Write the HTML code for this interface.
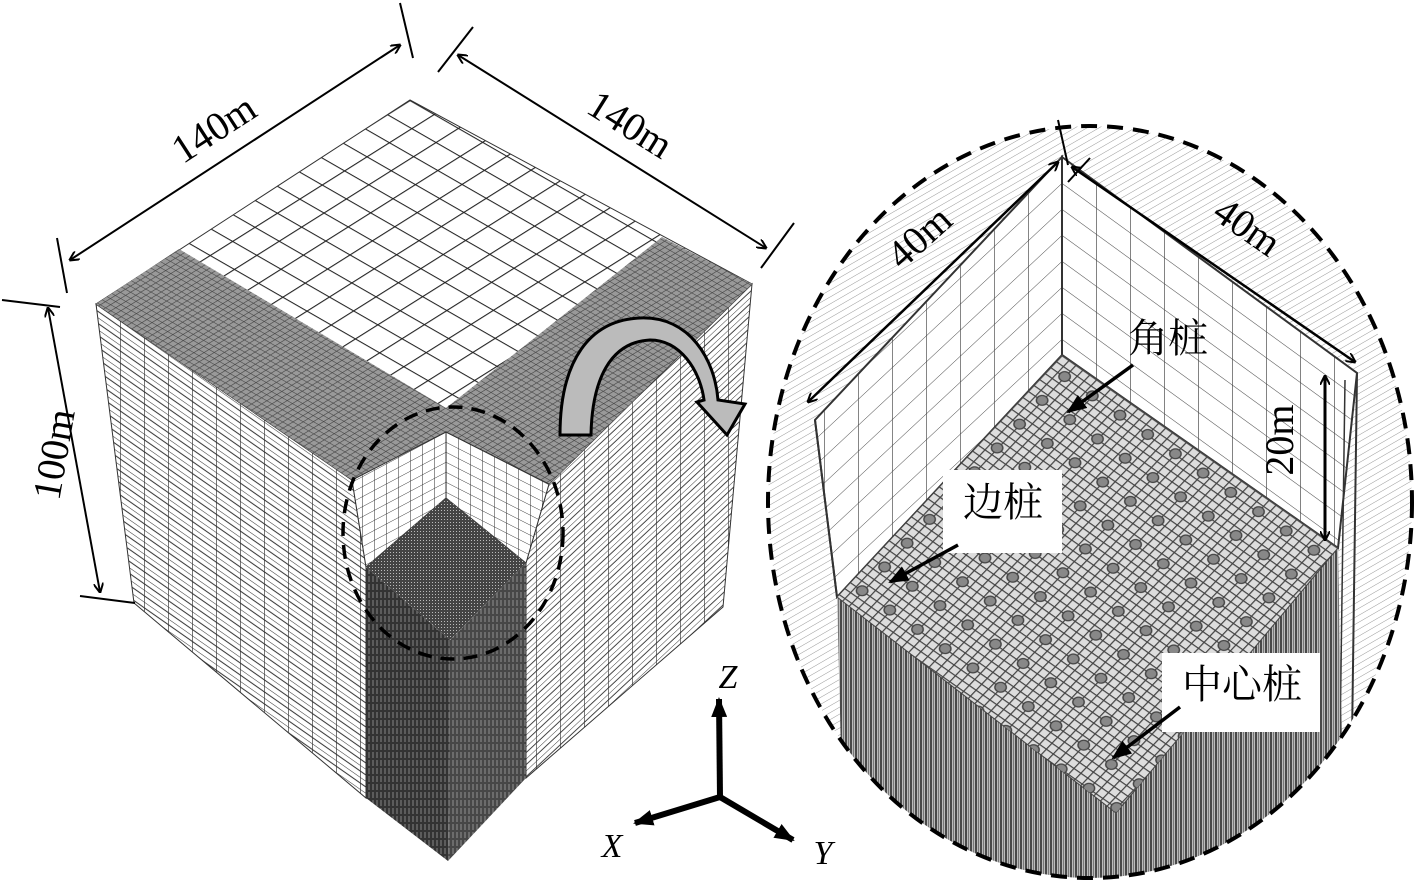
<!DOCTYPE html>
<html><head><meta charset="utf-8"><style>
html,body{margin:0;padding:0;background:#fff}
svg{display:block}
.t{font-family:"Liberation Serif","Noto Serif CJK SC",serif;fill:#000}
.c{font-family:"Liberation Serif","Noto Serif CJK SC","Noto Sans CJK SC",serif;fill:#000}
</style></head><body>
<svg width="1417" height="880" viewBox="0 0 1417 880" xmlns="http://www.w3.org/2000/svg">
<defs>
<marker id="ah" markerWidth="10" markerHeight="10" refX="9" refY="5" orient="auto-start-reverse" markerUnits="userSpaceOnUse">
<path d="M0,0 L10,5 L0,10" fill="none" stroke="#000" stroke-width="2"/></marker>
<marker id="af" markerWidth="20" markerHeight="16" refX="18" refY="8" orient="auto" markerUnits="userSpaceOnUse">
<path d="M0,0 L20,8 L0,16 Z" fill="#000"/></marker>
<pattern id="topg" width="1" height="1" patternUnits="userSpaceOnUse" patternTransform="matrix(-22.4,14.1,24.2,13.9,410,100)">
<rect width="1" height="1" fill="#fff"/><path d="M0,0H1M0,0V1" stroke="#222" stroke-width="0.09"/></pattern>
<pattern id="dark" width="1" height="1" patternUnits="userSpaceOnUse" patternTransform="matrix(-5,3.1,5.2,3,410,100)">
<rect width="1" height="1" fill="#999"/><path d="M0,0H1M0,0V1" stroke="#444" stroke-width="0.22"/></pattern>
<pattern id="lf" width="24" height="12" patternUnits="userSpaceOnUse" patternTransform="translate(96,304) skewY(35)">
<rect width="24" height="12" fill="#fff"/><path d="M0,0H24M0,0V12M0,6H24" stroke="#333" stroke-width="1.3"/></pattern>
<pattern id="rf" width="24" height="12" patternUnits="userSpaceOnUse" patternTransform="translate(752,284) skewY(-43)">
<rect width="24" height="12" fill="#fff"/><path d="M0,0H24M0,0V12M0,6H24" stroke="#333" stroke-width="1.3"/></pattern>
<pattern id="inw" width="12" height="10" patternUnits="userSpaceOnUse" patternTransform="translate(446,432) skewY(-28)">
<rect width="12" height="10" fill="#fff"/><path d="M0,0H12M0,0V10" stroke="#333" stroke-width="1"/></pattern>
<pattern id="inw2" width="12" height="10" patternUnits="userSpaceOnUse" patternTransform="translate(446,432) skewY(27)">
<rect width="12" height="10" fill="#fff"/><path d="M0,0H12M0,0V10" stroke="#333" stroke-width="1"/></pattern>
<pattern id="pil" width="4" height="8" patternUnits="userSpaceOnUse">
<rect width="4" height="8" fill="#333"/><path d="M1,0V6" stroke="#999" stroke-width="0.8"/></pattern>
<pattern id="piltop" width="3" height="3" patternUnits="userSpaceOnUse">
<rect width="3" height="3" fill="#444"/><rect width="1" height="1" fill="#bbb"/></pattern>
<pattern id="hatch" width="6" height="6" patternUnits="userSpaceOnUse" patternTransform="rotate(60)">
<rect width="6" height="6" fill="#fff"/><path d="M0,0V6" stroke="#999" stroke-width="1"/></pattern>
<pattern id="wallL" width="34" height="26" patternUnits="userSpaceOnUse" patternTransform="translate(1062,157) skewY(-43)">
<rect width="34" height="26" fill="#fff"/><path d="M0,0H34M0,0V26" stroke="#444" stroke-width="1.3"/></pattern>
<pattern id="wallR" width="34" height="26" patternUnits="userSpaceOnUse" patternTransform="translate(1062,157) skewY(36)">
<rect width="34" height="26" fill="#fff"/><path d="M0,0H34M0,0V26" stroke="#444" stroke-width="1.3"/></pattern>
<pattern id="floor" width="1" height="1" patternUnits="userSpaceOnUse" patternTransform="matrix(-5.6,5.95,6.9,4.82,1062,355)">
<rect width="1" height="1" fill="#ddd"/><path d="M0,0H1M0,0V1" stroke="#444" stroke-width="0.3"/></pattern>
<pattern id="piles" width="1" height="1" patternUnits="userSpaceOnUse" patternTransform="matrix(-22.5,23.8,27.7,19.3,1062,355)">
<circle cx="0.5" cy="0.5" r="0.16" fill="#888" stroke="#444" stroke-width="0.04"/></pattern>
<pattern id="side" width="5" height="10" patternUnits="userSpaceOnUse">
<rect width="5" height="10" fill="#bbb"/><path d="M1,0V10" stroke="#222" stroke-width="1.5"/><path d="M3.5,0V10" stroke="#666" stroke-width="0.8"/></pattern>
<clipPath id="circ"><ellipse cx="1090" cy="502" rx="322" ry="376"/></clipPath>
</defs>

<polygon points="96,304 352,480 366,567 366,798 134,603" fill="url(#lf)" stroke="#333"/>
<polygon points="752,284 549,484 526,563 526,778 723,607" fill="url(#rf)" stroke="#333"/>
<polygon points="410,100 752,284 549,484 446,432 352,480 96,304" fill="url(#topg)" stroke="#333"/>
<polygon points="96,304 179,249 446,408 446,432 352,480" fill="url(#dark)"/>
<polygon points="752,284 662,237 446,408 446,432 549,484" fill="url(#dark)"/>
<polygon points="352,480 446,432 446,498 366,567" fill="url(#inw)" stroke="#333"/>
<polygon points="446,432 549,484 526,563 446,498" fill="url(#inw2)" stroke="#333"/>
<polygon points="366,567 450,640 448,861 366,798" fill="url(#pil)"/>
<polygon points="450,640 526,563 526,778 448,861" fill="url(#pil)" opacity="0.9"/>
<polygon points="446,498 526,563 450,640 366,567" fill="url(#piltop)"/>
<ellipse cx="453" cy="533" rx="110" ry="126" fill="none" stroke="#000" stroke-width="3.5" stroke-dasharray="14,9"/>

<path d="M560,435 C560,360 590,320 640,318 C690,316 715,360 718,400 L745,404 L727,435 L697,402 L704,400 C700,370 680,340 650,340 C610,342 592,380 591,435 Z" fill="#bbb" stroke="#000" stroke-width="3"/>

<line x1="70" y1="260" x2="400" y2="45" stroke="#000" stroke-width="2" marker-start="url(#ah)" marker-end="url(#ah)"/>
<line x1="57" y1="238" x2="67" y2="293" stroke="#000" stroke-width="2"/>
<line x1="400" y1="3" x2="413" y2="58" stroke="#000" stroke-width="2"/>
<line x1="458" y1="55" x2="766" y2="248" stroke="#000" stroke-width="2" marker-start="url(#ah)" marker-end="url(#ah)"/>
<line x1="438" y1="72" x2="473" y2="27" stroke="#000" stroke-width="2"/>
<line x1="761" y1="268" x2="794" y2="223" stroke="#000" stroke-width="2"/>
<line x1="48" y1="308" x2="100" y2="592" stroke="#000" stroke-width="2" marker-start="url(#ah)" marker-end="url(#ah)"/>
<line x1="2" y1="300" x2="60" y2="307" stroke="#000" stroke-width="2"/>
<line x1="80" y1="596" x2="135" y2="603" stroke="#000" stroke-width="2"/>
<text class="t" font-size="40" transform="translate(216,132) rotate(-33)" text-anchor="middle" dominant-baseline="middle">140m</text>
<text class="t" font-size="40" transform="translate(628,128) rotate(32)" text-anchor="middle" dominant-baseline="middle">140m</text>
<text class="t" font-size="40" transform="translate(58,455) rotate(-80)" text-anchor="middle" dominant-baseline="middle">100m</text>

<line x1="720" y1="797" x2="719" y2="699" stroke="#000" stroke-width="6" marker-end="url(#af)"/>
<line x1="720" y1="797" x2="635" y2="823" stroke="#000" stroke-width="6" marker-end="url(#af)"/>
<line x1="720" y1="797" x2="793" y2="840" stroke="#000" stroke-width="6" marker-end="url(#af)"/>
<text class="t" font-size="34" font-style="italic" x="728" y="688" text-anchor="middle">Z</text>
<text class="t" font-size="34" font-style="italic" x="612" y="857" text-anchor="middle">X</text>
<text class="t" font-size="34" font-style="italic" x="823" y="864" text-anchor="middle">Y</text>

<g clip-path="url(#circ)">
<ellipse cx="1090" cy="502" rx="322" ry="376" fill="url(#hatch)"/>
<polygon points="1062,157 815,420 837,597 1062,355" fill="url(#wallL)" stroke="#333" stroke-width="2"/>
<polygon points="1062,157 1357,373 1338,548 1062,355" fill="url(#wallR)" stroke="#333" stroke-width="2"/>
<line x1="1062" y1="157" x2="1062" y2="355" stroke="#333" stroke-width="2"/>
<line x1="815" y1="420" x2="837" y2="597" stroke="#333" stroke-width="2"/>
<line x1="1357" y1="373" x2="1352" y2="740" stroke="#333" stroke-width="2"/>
<line x1="1345" y1="380" x2="1340" y2="740" stroke="#333" stroke-width="1.5"/>
<polygon points="837,597 1116,813 1116,900 845,900" fill="url(#side)"/>
<polygon points="1116,813 1338,548 1345,900 1116,900" fill="url(#side)"/>
<polygon points="1062,355 1338,548 1116,813 837,597" fill="url(#floor)" stroke="#444"/>
<polygon points="1062,355 1338,548 1116,813 837,597" fill="url(#piles)"/>
</g>
<ellipse cx="1090" cy="502" rx="322" ry="376" fill="none" stroke="#000" stroke-width="4" stroke-dasharray="16,10"/>

<line x1="808" y1="402" x2="1058" y2="162" stroke="#000" stroke-width="2.5" marker-start="url(#ah)" marker-end="url(#ah)"/>
<line x1="1072" y1="167" x2="1355" y2="362" stroke="#000" stroke-width="2.5" marker-start="url(#ah)" marker-end="url(#ah)"/>
<line x1="1058" y1="120" x2="1068" y2="165" stroke="#000" stroke-width="2"/>
<line x1="1068" y1="182" x2="1090" y2="158" stroke="#000" stroke-width="2"/>
<line x1="1325" y1="376" x2="1325" y2="540" stroke="#000" stroke-width="3" marker-start="url(#ah)" marker-end="url(#ah)"/>
<text class="t" font-size="40" transform="translate(922,240) rotate(-42)" text-anchor="middle" dominant-baseline="middle">40m</text>
<text class="t" font-size="40" transform="translate(1245,230) rotate(35)" text-anchor="middle" dominant-baseline="middle">40m</text>
<text class="t" font-size="40" transform="translate(1284,440) rotate(-90)" text-anchor="middle" dominant-baseline="middle">20m</text>

<text class="c" font-size="40" x="1168" y="352" text-anchor="middle">角桩</text>
<line x1="1133" y1="365" x2="1068" y2="412" stroke="#000" stroke-width="3.5" marker-end="url(#af)"/>
<rect x="943" y="470" width="119" height="83" fill="#fff"/>
<text class="c" font-size="40" x="1003" y="516" text-anchor="middle">边桩</text>
<line x1="958" y1="545" x2="890" y2="582" stroke="#000" stroke-width="3.5" marker-end="url(#af)"/>
<rect x="1162" y="653" width="158" height="79" fill="#fff"/>
<text class="c" font-size="40" x="1242" y="698" text-anchor="middle">中心桩</text>
<line x1="1180" y1="707" x2="1113" y2="758" stroke="#000" stroke-width="3.5" marker-end="url(#af)"/>
</svg>
</body></html>
